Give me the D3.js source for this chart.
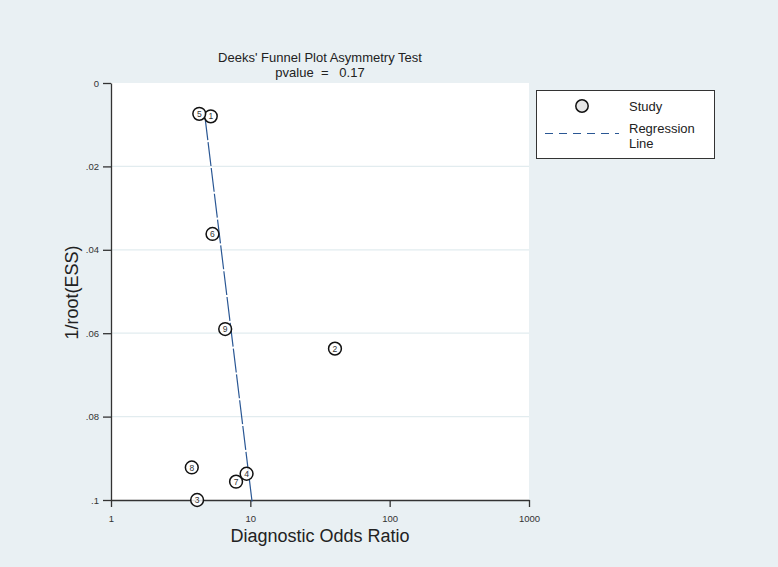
<!DOCTYPE html>
<html><head><meta charset="utf-8">
<script src="https://cdn.jsdelivr.net/npm/d3@7"></script>
<style>
html,body{margin:0;padding:0;background:#e9f0f3;}
svg{display:block;font-family:"Liberation Sans",Arial,sans-serif;}
</style></head>
<body>
<script>
// Data
const studyIds = [1, 2, 3, 4, 5, 6, 7, 8, 9];
const dorValues = [5.2, 40.5, 4.15, 9.4, 4.3, 5.35, 7.9, 3.8, 6.6];
const invRootEss = [0.0080, 0.0637, 0.1000, 0.0937, 0.0074, 0.0362, 0.0956, 0.0922, 0.0590];
const regLineY = [0.0080, 0.1005];
const regLineDor = [4.72, 10.3];
const xTicks = [1, 10, 100, 1000];
const xTickLabels = ["1", "10", "100", "1000"];
const yTicks = [0, 0.02, 0.04, 0.06, 0.08, 0.1];
const yTickLabels = ["0", ".02", ".04", ".06", ".08", ".1"];
const titleLines = ["Deeks' Funnel Plot Asymmetry Test", "pvalue  =   0.17"];
const legendLabels = ["Study", ["Regression", "Line"]];

const W = 778, H = 567;
const svg = d3.select("body").append("svg").attr("width", W).attr("height", H);
svg.append("rect").attr("width", W).attr("height", H).attr("fill", "#e9f0f3");

const plot = {left: 111, right: 529, top: 83, bottom: 500};
const x = d3.scaleLog().domain([1, 1000]).range([plot.left, plot.right]);
const y = d3.scaleLinear().domain([0, 0.1]).range([plot.top, plot.bottom]);

svg.append("rect").attr("x", plot.left).attr("y", plot.top)
  .attr("width", plot.right - plot.left).attr("height", plot.bottom - plot.top)
  .attr("fill", "#ffffff");

// gridlines
svg.append("g").selectAll("line").data(yTicks.filter(d => d > 0 && d < 0.1)).join("line")
  .attr("x1", plot.left).attr("x2", plot.right)
  .attr("y1", d => y(d)).attr("y2", d => y(d))
  .attr("stroke", "#e2ecef").attr("stroke-width", 1.2);

// axes
const yAxis = d3.axisLeft(y).tickValues(yTicks).tickFormat((d, i) => yTickLabels[i]).tickSize(8).tickSizeOuter(0);
const gy = svg.append("g").attr("transform", `translate(${plot.left},0)`).call(yAxis);
gy.select(".domain").attr("stroke", "#333").attr("stroke-width", 1.3);
gy.selectAll(".tick line").attr("stroke", "#333").attr("stroke-width", 1.3);
gy.selectAll(".tick text").attr("font-size", 9.5).attr("fill", "#333").attr("x", -12)
  .attr("font-family", "'Liberation Sans',Arial,sans-serif");

const xAxis = d3.axisBottom(x).tickValues(xTicks).tickFormat((d, i) => xTickLabels[i]).tickSize(7).tickSizeOuter(0);
const gx = svg.append("g").attr("transform", `translate(0,${plot.bottom})`).call(xAxis);
gx.select(".domain").attr("stroke", "#333").attr("stroke-width", 1.3);
gx.selectAll(".tick line").attr("stroke", "#333").attr("stroke-width", 1.3);
gx.selectAll(".tick text").attr("font-size", 9.5).attr("fill", "#333").attr("y", 15)
  .attr("font-family", "'Liberation Sans',Arial,sans-serif");

// regression line
const regPts = regLineY.map((v, i) => [regLineDor[i], v]);
svg.append("path").datum(regPts)
  .attr("d", d3.line().x(d => x(d[0])).y(d => y(d[1])))
  .attr("fill", "none").attr("stroke", "#2a5794").attr("stroke-width", 1.2)
  .attr("stroke-dasharray", "24,2");

// points
const pts = studyIds.map((id, i) => ({id, dor: dorValues[i], v: invRootEss[i]}));
const g = svg.append("g").selectAll("g").data(pts).join("g")
  .attr("transform", d => `translate(${x(d.dor)},${y(d.v)})`);
g.append("circle").attr("r", 6.4).attr("fill", "#ffffff").attr("fill-opacity", 0.85)
  .attr("stroke", "#111").attr("stroke-width", 1.5);
g.append("text").text(d => d.id).attr("text-anchor", "middle").attr("dy", "0.36em")
  .attr("font-size", 8.5).attr("fill", "#333");

// title
svg.append("text").attr("x", (plot.left + plot.right) / 2).attr("y", 62)
  .attr("text-anchor", "middle").attr("font-size", 13).attr("fill", "#222").text(titleLines[0]);
svg.append("text").attr("x", (plot.left + plot.right) / 2).attr("y", 77)
  .attr("text-anchor", "middle").attr("font-size", 13).attr("fill", "#222")
  .attr("xml:space", "preserve").style("white-space", "pre").text(titleLines[1]);

// axis titles
svg.append("text").attr("x", (plot.left + plot.right) / 2).attr("y", 542)
  .attr("text-anchor", "middle").attr("font-size", 18).attr("fill", "#222").text("Diagnostic Odds Ratio");
svg.append("text").attr("transform", `translate(78,${(plot.top + plot.bottom) / 2 + 1}) rotate(-90)`)
  .attr("text-anchor", "middle").attr("font-size", 18).attr("fill", "#222").text("1/root(ESS)");

// legend
const lg = svg.append("g");
lg.append("rect").attr("x", 536.5).attr("y", 90.5).attr("width", 178).attr("height", 68)
  .attr("fill", "#fff").attr("stroke", "#333").attr("stroke-width", 1);
lg.append("circle").attr("cx", 582).attr("cy", 106).attr("r", 6.2)
  .attr("fill", "#e6e6e6").attr("stroke", "#111").attr("stroke-width", 1.5);
lg.append("text").attr("x", 629).attr("y", 111).attr("font-size", 13).attr("fill", "#222").text(legendLabels[0]);
lg.append("line").attr("x1", 545).attr("x2", 619).attr("y1", 133.5).attr("y2", 133.5)
  .attr("stroke", "#2a5794").attr("stroke-width", 1).attr("stroke-dasharray", "8,6");
lg.append("text").attr("x", 629).attr("y", 133).attr("font-size", 13).attr("fill", "#222").text(legendLabels[1][0]);
lg.append("text").attr("x", 629).attr("y", 148).attr("font-size", 13).attr("fill", "#222").text(legendLabels[1][1]);
</script>
</body></html>
